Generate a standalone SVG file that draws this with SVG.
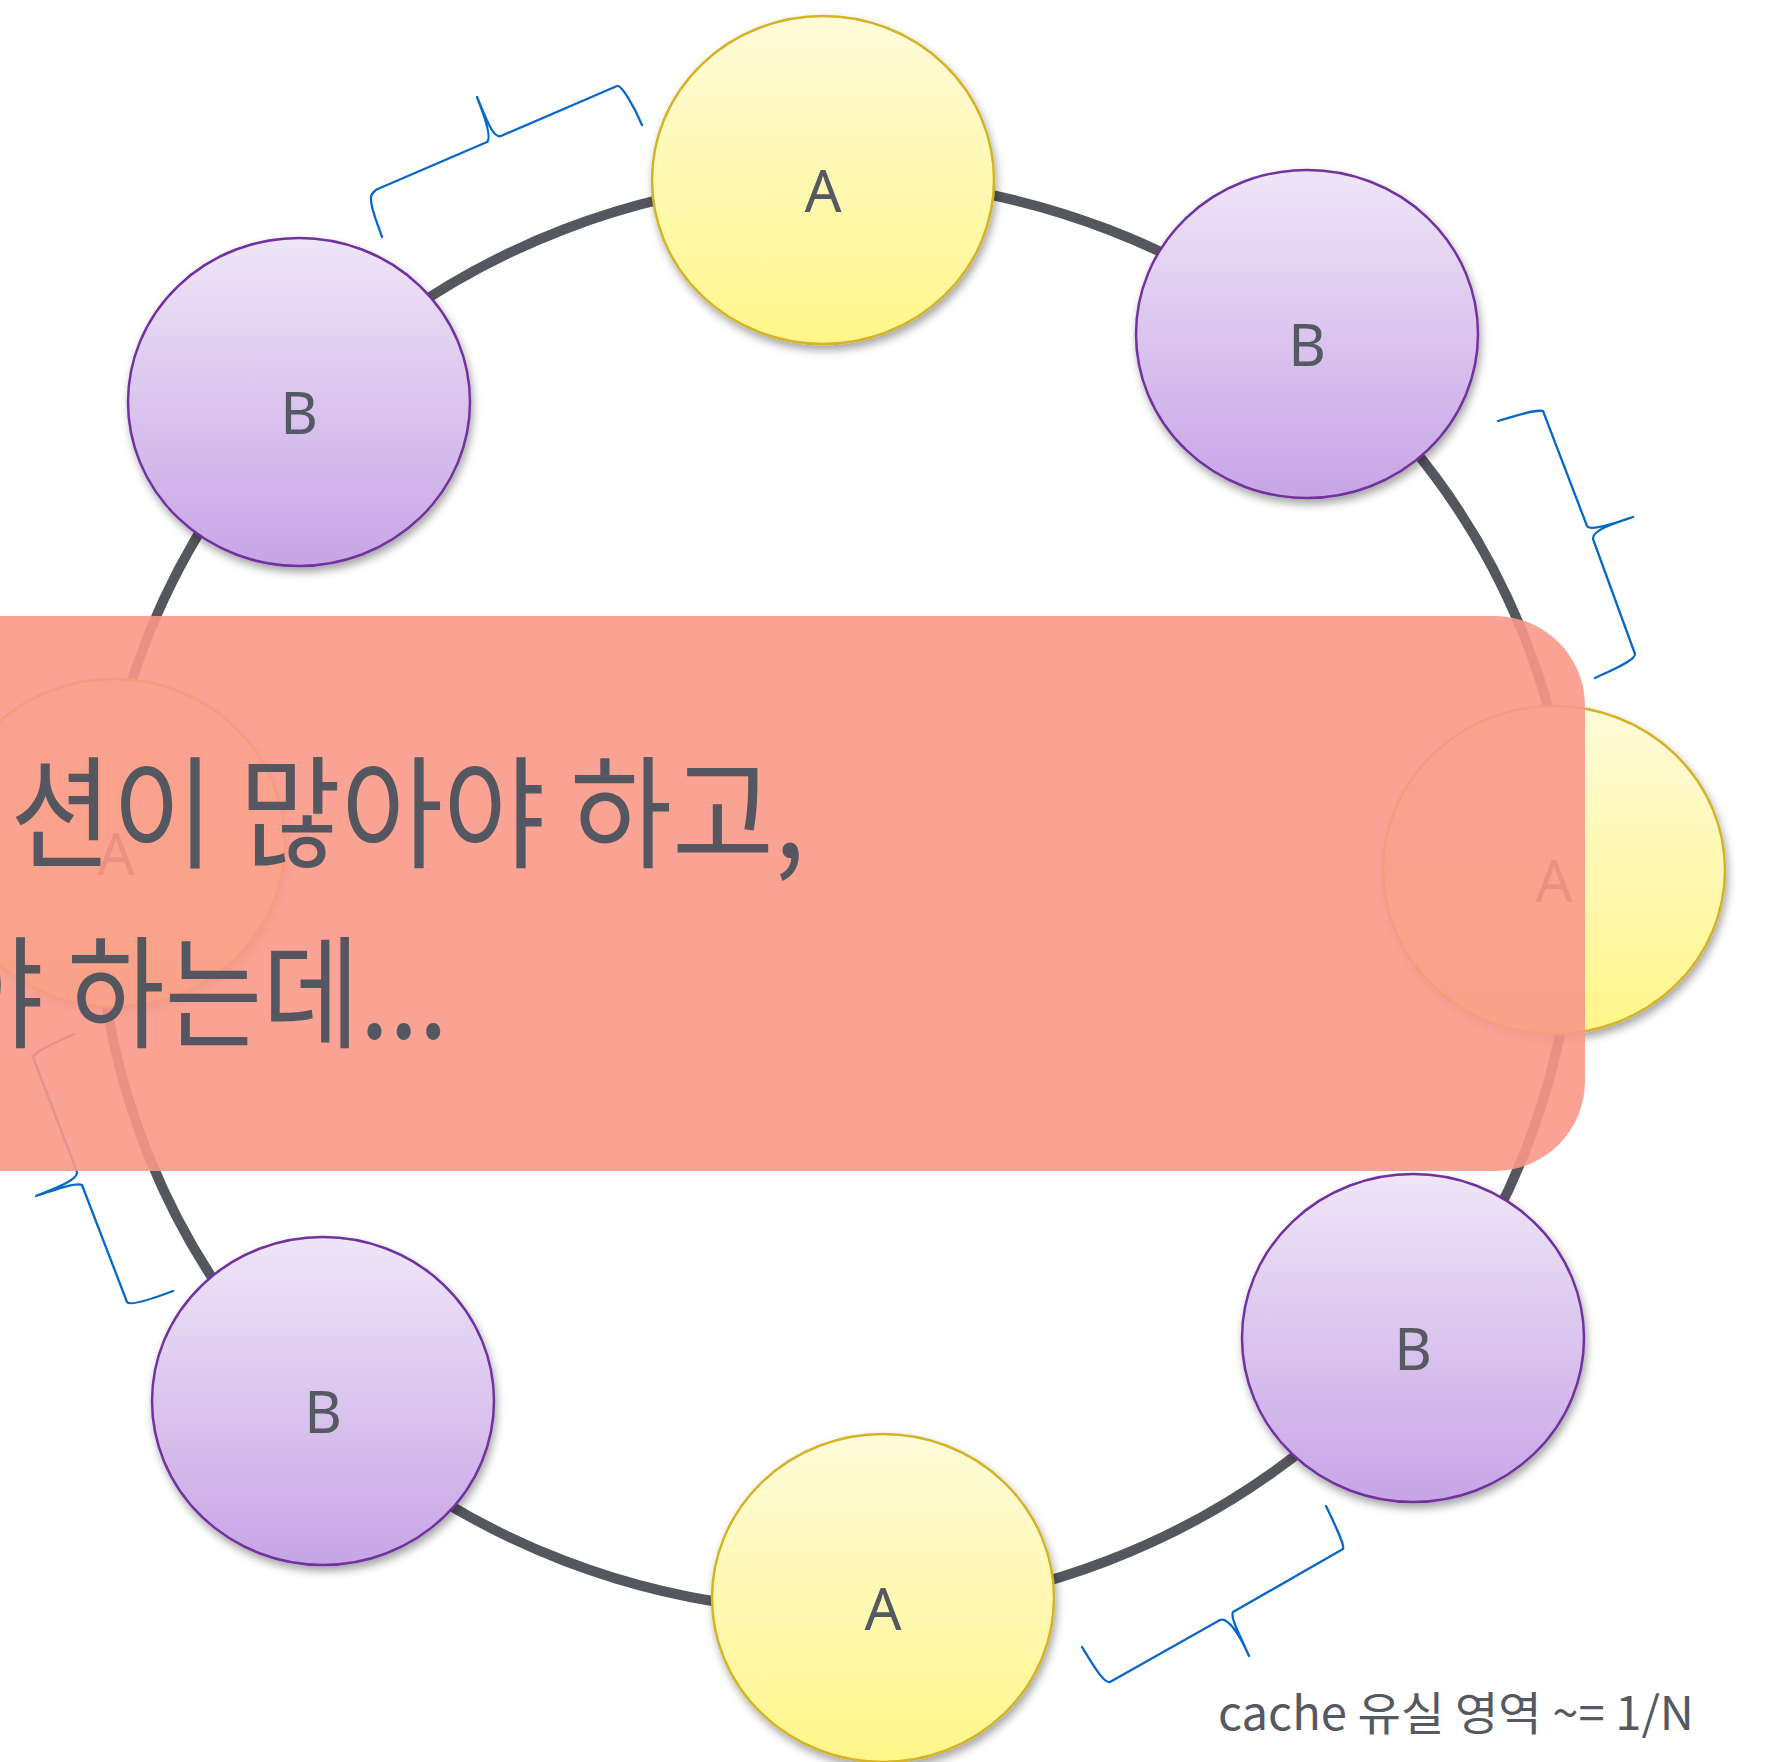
<svg xmlns="http://www.w3.org/2000/svg" width="1768" height="1762" viewBox="0 0 1768 1762">
  <defs>
    <linearGradient id="gA" x1="0" y1="0" x2="0" y2="1">
      <stop offset="0" stop-color="#FFFBDA"/>
      <stop offset="1" stop-color="#FFF68A"/>
    </linearGradient>
    <linearGradient id="gB" x1="0" y1="0" x2="0" y2="1">
      <stop offset="0" stop-color="#EFE5F7"/>
      <stop offset="1" stop-color="#C7A5E6"/>
    </linearGradient>
    <filter id="sh" x="-20%" y="-20%" width="140%" height="150%">
      <feDropShadow dx="2" dy="5" stdDeviation="4" flood-color="#000" flood-opacity="0.35"/>
    </filter>
  </defs>
  <style>
    .ring { fill: none; stroke: #54575E; stroke-width: 10; }
    .nA { fill: url(#gA); stroke: #D4B325; stroke-width: 2.5; filter: url(#sh); }
    .nB { fill: url(#gB); stroke: #7131A0; stroke-width: 2.5; filter: url(#sh); }
    .lbl { font-family: "Noto Sans", "Liberation Sans", sans-serif; font-size: 58px; fill: #555962; text-anchor: middle; }
    .brace { fill: none; stroke: #0868C8; stroke-width: 2.3; stroke-linecap: round; stroke-linejoin: round; }
    .big { font-family: "Noto Sans CJK KR", "Noto Sans", sans-serif; font-size: 122px; fill: #54575F; }
    .note { font-family: "Noto Sans CJK KR", "Noto Sans", sans-serif; font-size: 46px; fill: #555962; }
  </style>

  <g id="connectors">
    <ellipse class="ring" cx="836" cy="895" rx="738" ry="716"/>
  </g>

  <g id="node-a-top">
    <ellipse class="nA" cx="823" cy="180" rx="171" ry="164"/>
    <text class="lbl" x="823" y="212">A</text>
  </g>
  <g id="node-b-topright">
    <ellipse class="nB" cx="1307" cy="334" rx="171" ry="164"/>
    <text class="lbl" x="1307" y="366">B</text>
  </g>
  <g id="node-a-right">
    <ellipse class="nA" cx="1554" cy="870" rx="171" ry="164"/>
    <text class="lbl" x="1554" y="902">A</text>
  </g>
  <g id="node-b-bottomright">
    <ellipse class="nB" cx="1413" cy="1338" rx="171" ry="164"/>
    <text class="lbl" x="1413" y="1370">B</text>
  </g>
  <g id="node-a-bottom">
    <ellipse class="nA" cx="883" cy="1598" rx="171" ry="164"/>
    <text class="lbl" x="883" y="1630">A</text>
  </g>
  <g id="node-b-bottomleft">
    <ellipse class="nB" cx="323" cy="1401" rx="171" ry="164"/>
    <text class="lbl" x="323" y="1433">B</text>
  </g>
  <g id="node-a-left">
    <ellipse class="nA" cx="114" cy="843" rx="171" ry="164"/>
    <text class="lbl" x="116" y="875">A</text>
  </g>
  <g id="node-b-topleft">
    <ellipse class="nB" cx="299" cy="402" rx="171" ry="164"/>
    <text class="lbl" x="299" y="434">B</text>
  </g>

  <g id="braces">
    <path class="brace" d="M382,237 C376,220 368,200 372,194 C374,191 377,189 380,188 L487,142 C491,139 488,125 477,97 C486,118 493,139 501,136 L617,86 C621,84 634,106 642,125"/>
    <path class="brace" d="M1498,421 C1515,416 1535,409 1543,411 L1587,526 C1590,531 1610,525 1633,517 C1615,523 1592,530 1593,539 L1635,654 C1636,660 1612,670 1595,678"/>
    <path class="brace" d="M74,1034 C58,1042 36,1050 33,1057 L77,1172 C78,1180 56,1188 36,1196 C55,1190 75,1182 82,1185 L127,1302 C130,1306 152,1299 173,1291"/>
    <path class="brace" d="M1326,1506 C1335,1525 1345,1545 1343,1549 L1233,1612 C1230,1618 1240,1635 1249,1656 C1240,1635 1228,1617 1220,1620 L1110,1682 C1104,1684 1093,1665 1082,1647"/>
  </g>

  <g id="overlay">
    <rect x="-200" y="616" width="1785" height="555" rx="90" ry="90" fill="rgb(249,152,136)" fill-opacity="0.9"/>
    <text class="big" x="10" y="858" textLength="795" lengthAdjust="spacingAndGlyphs">션이 많아야 하고,</text>
    <text class="big" x="-54" y="1038" textLength="502" lengthAdjust="spacingAndGlyphs">야 하는데...</text>
  </g>

  <g id="note">
    <text class="note" x="1218" y="1730" textLength="476" lengthAdjust="spacingAndGlyphs">cache 유실 영역 ~= 1/N</text>
  </g>
</svg>
